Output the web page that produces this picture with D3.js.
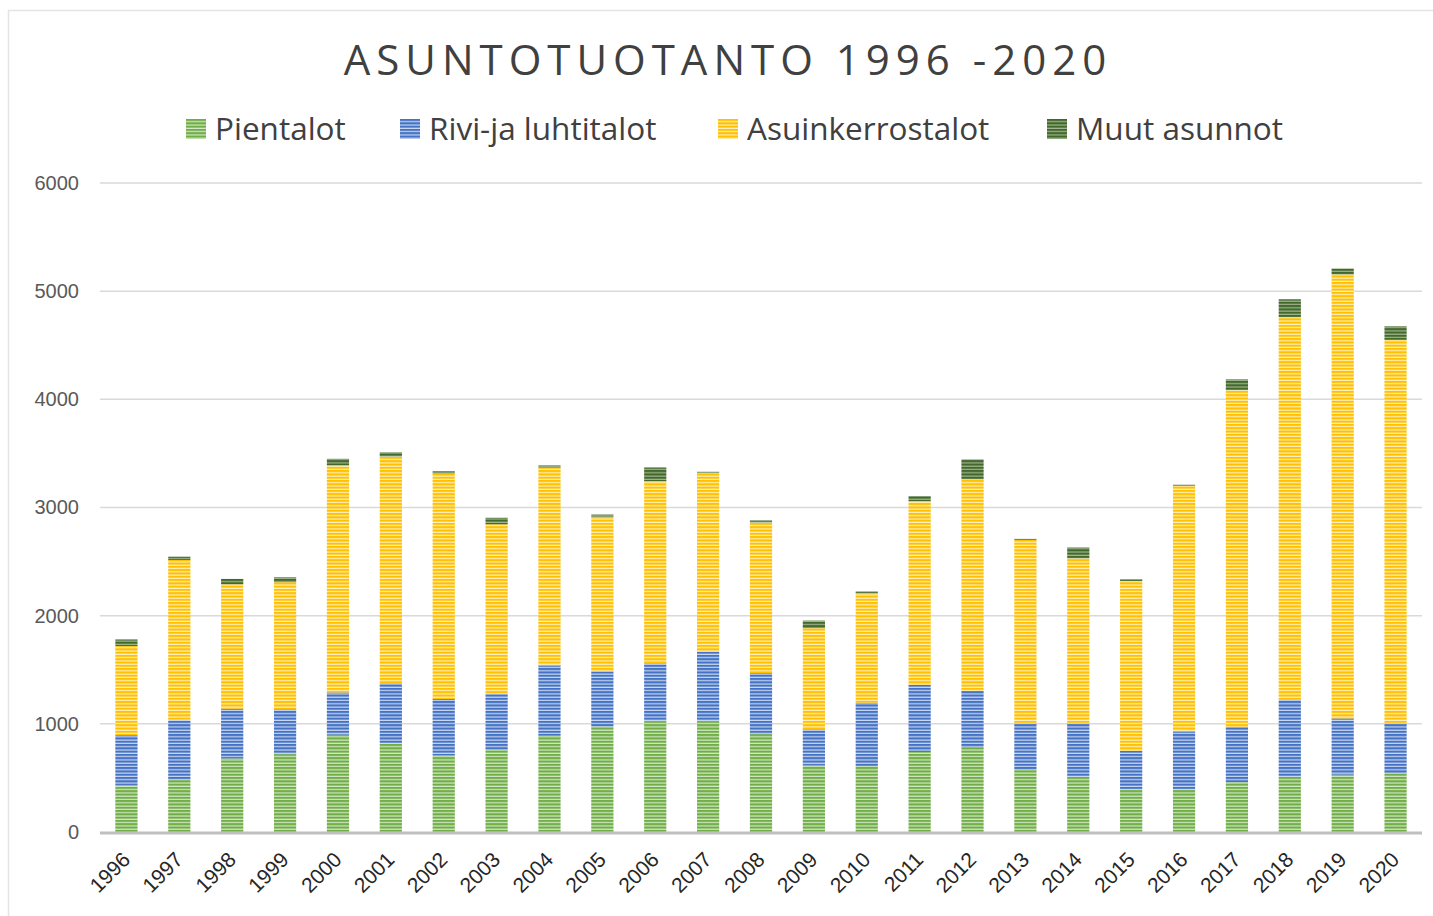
<!DOCTYPE html>
<html>
<head>
<meta charset="utf-8">
<script src="https://cdn.jsdelivr.net/npm/d3@7"></script>
<style>
  body { margin: 0; background: #fff; }
  svg { display: block; font-family: "Open Sans", sans-serif; }
  .tick line { display: none; }
  .domain { display: none; }
</style>
</head>
<body>
<div id="chart"></div>
<script>
// vuodet ja sarjat (asuntoja / vuosi), luettu kuvasta
var years = ["1996","1997","1998","1999","2000","2001","2002","2003","2004","2005","2006","2007","2008",
             "2009","2010","2011","2012","2013","2014","2015","2016","2017","2018","2019","2020"];
var pientalot = [435, 490, 680, 720, 900, 820, 710, 760, 890, 975, 1025, 1025, 905,
                 620, 610, 740, 780, 575, 510, 395, 395, 460, 510, 530, 545];
var rivitalot = [460, 545, 460, 415, 390, 555, 520, 515, 650, 510, 535, 640, 565,
                 330, 585, 620, 525, 430, 495, 355, 535, 510, 715, 520, 460];
var kerrostalot = [825, 1480, 1150, 1175, 2100, 2095, 2085, 1570, 1830, 1430, 1685, 1655, 1390,
                   935, 1015, 1700, 1955, 1695, 1525, 1570, 2270, 3115, 3535, 4105, 3545];
var muut = [60, 30, 50, 45, 60, 40, 20, 60, 20, 20, 125, 10, 20,
            70, 15, 45, 185, 10, 100, 15, 10, 100, 165, 55, 125];
var yTicks = [0, 1000, 2000, 3000, 4000, 5000, 6000];

var seriesNames = ["Pientalot", "Rivi-ja luhtitalot", "Asuinkerrostalot", "Muut asunnot"];
var seriesKeys = ["p", "r", "k", "m"];
var colors = ["#70ad47", "#4472c4", "#ffc000", "#43682b"];
var light = ["#d4e8c6", "#cad7f0", "#fff0c0", "#9fb58f"];

var W = 1433, H = 916;
var margin = {top: 183, right: 11, bottom: 84, left: 100};
var w = W - margin.left - margin.right,
    h = H - margin.top - margin.bottom;

var table = years.map(function(y, i) {
    return {year: y, p: pientalot[i], r: rivitalot[i], k: kerrostalot[i], m: muut[i]};
});
var stacked = d3.stack().keys(seriesKeys)(table);

var svg = d3.select("#chart").append("svg")
    .attr("width", W)
    .attr("height", H);

// raidalliset kuviot
var defs = svg.append("defs");
seriesKeys.forEach(function(k, i) {
    var pat = defs.append("pattern")
        .attr("id", "pat-" + k)
        .attr("patternUnits", "userSpaceOnUse")
        .attr("width", 8)
        .attr("height", 3.3);
    pat.append("rect").attr("width", 8).attr("height", 3.3).attr("fill", light[i]);
    pat.append("rect").attr("width", 8).attr("height", 2.1).attr("fill", colors[i]);
});

// kehys
svg.append("rect")
    .attr("x", 8.5).attr("y", 10.5)
    .attr("width", W).attr("height", H)
    .attr("fill", "none")
    .attr("stroke", "#e4e4e4")
    .attr("stroke-width", 1.5);

svg.append("text")
    .attr("x", 728)
    .attr("y", 75)
    .attr("text-anchor", "middle")
    .style("font-size", "42px")
    .style("letter-spacing", "6px")
    .style("fill", "#404040")
    .text("ASUNTOTUOTANTO 1996 -2020");

var g = svg.append("g")
    .attr("transform", "translate(" + margin.left + "," + margin.top + ")");

var x = d3.scaleBand()
    .domain(years)
    .range([0, w])
    .paddingInner(0.58)
    .paddingOuter(0.29);

var y = d3.scaleLinear()
    .domain([0, 6000])
    .range([h, 0]);

// ruudukko
g.append("g")
    .selectAll("line")
    .data(yTicks.slice(1))
    .join("line")
    .attr("x1", 0)
    .attr("x2", w)
    .attr("y1", function(d) { return y(d); })
    .attr("y2", function(d) { return y(d); })
    .attr("stroke", "#d9d9d9")
    .attr("stroke-width", 1.5);

var yAxis = g.append("g")
    .call(d3.axisLeft(y).tickValues(yTicks).tickFormat(d3.format("d")).tickSize(0).tickPadding(21));
yAxis.selectAll("text")
    .style("font-size", "20px")
    .style("fill", "#595959");

g.selectAll(".serie")
    .data(stacked)
    .join("g")
    .attr("class", "serie")
    .attr("fill", function(d) { return "url(#pat-" + d.key + ")"; })
    .selectAll("rect")
    .data(function(d) { return d; })
    .join("rect")
    .attr("x", function(d) { return x(d.data.year); })
    .attr("width", x.bandwidth())
    .attr("y", function(d) { return y(d[1]); })
    .attr("height", function(d) { return y(d[0]) - y(d[1]); });

// x-akseli
g.append("line")
    .attr("x1", 0).attr("x2", w)
    .attr("y1", h + 1).attr("y2", h + 1)
    .attr("stroke", "#bfbfbf")
    .attr("stroke-width", 3);

var xAxis = g.append("g")
    .attr("transform", "translate(0," + h + ")")
    .call(d3.axisBottom(x).tickSize(0).tickPadding(0));
xAxis.selectAll("text")
    .attr("text-anchor", "end")
    .attr("dy", "0")
    .attr("transform", function() { return "translate(5,29) rotate(-45)"; })
    .style("font-size", "21px")
    .style("fill", "#262626");

// selite
var legendX = [186, 400, 718, 1047];
var legend = svg.append("g")
    .selectAll("g")
    .data(seriesNames)
    .join("g")
    .attr("transform", function(d, i) { return "translate(" + legendX[i] + ",119)"; });
legend.append("rect")
    .attr("width", 20)
    .attr("height", 20)
    .attr("fill", function(d, i) { return "url(#pat-" + seriesKeys[i] + ")"; });
legend.append("text")
    .attr("x", 29)
    .attr("y", 21)
    .style("font-size", "31.5px")
    .style("fill", "#404040")
    .text(function(d) { return d; });
</script>
</body>
</html>
